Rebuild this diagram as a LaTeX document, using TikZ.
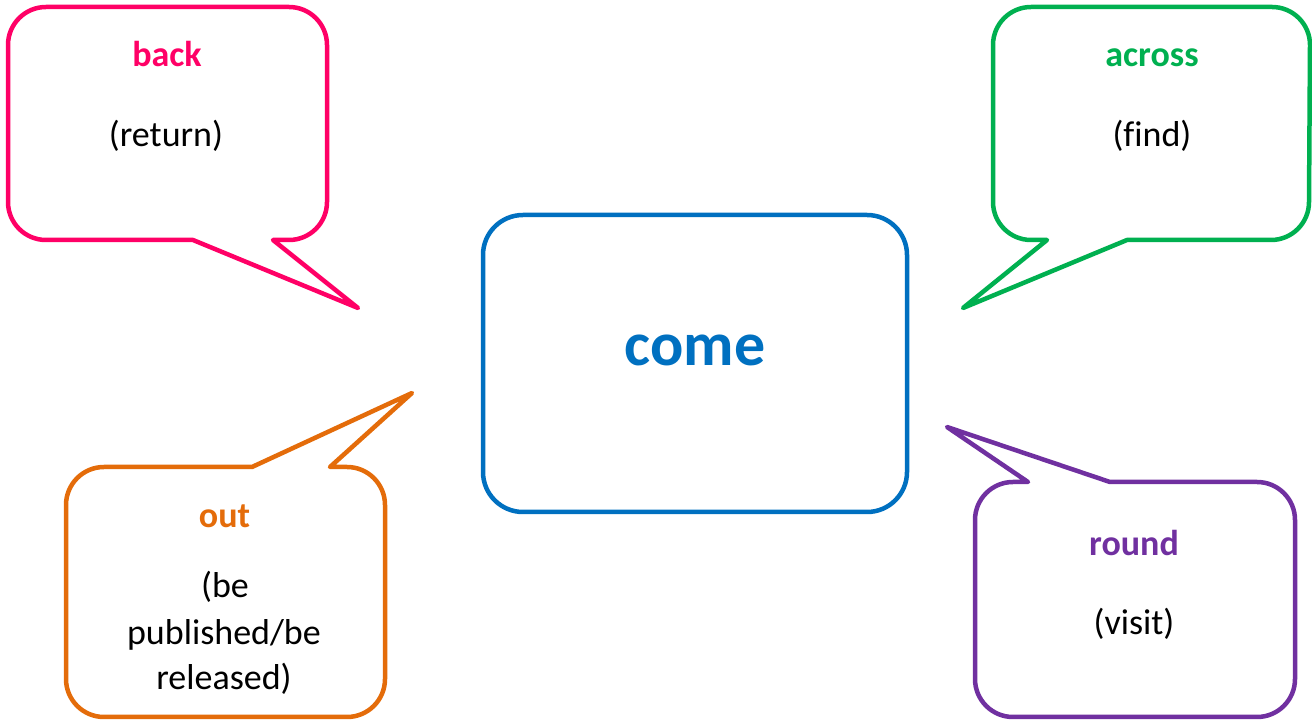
\documentclass[tikz,border=0pt]{standalone}
\usepackage{fontspec}
\setmainfont{Carlito}[Ligatures=CommonOff]
\definecolor{cpink}{HTML}{FF0066}
\definecolor{cgreen}{HTML}{00B050}
\definecolor{corange}{HTML}{E46C0A}
\definecolor{cpurple}{HTML}{7030A0}
\definecolor{cblue}{HTML}{0070C0}
\begin{document}
\begin{tikzpicture}[x=1pt,y=1pt,
  bubble/.style={line width=4.5pt, line join=round, line cap=round, fill=white},
  headword/.style={anchor=base, font=\fontsize{36}{44}\selectfont\bfseries, inner sep=0pt},
  meaning/.style={anchor=base, font=\fontsize{36}{44}\selectfont, text=black, inner sep=0pt}]
\useasboundingbox (0,0) rectangle (1312,720);
% centre box
\node[draw=cblue, line width=4.5pt, rounded corners=40pt, minimum width=424pt, minimum height=297pt, inner sep=0pt] (centre) at (695,356.5) {};
\node[anchor=base, inner sep=0pt, text=cblue, font=\fontsize{62}{70}\selectfont\bfseries] (come) at (695,354) {come};
% back bubble
\draw[bubble, draw=cpink] (193,480) -- (358,412) -- (273,480) -- (289,480)
  arc[start angle=270,end angle=360,radius=38] -- (327,675)
  arc[start angle=0,end angle=90,radius=38] -- (46,713)
  arc[start angle=90,end angle=180,radius=38] -- (8,518)
  arc[start angle=180,end angle=270,radius=38] -- cycle;
\node[headword, text=cpink] (back) at (167,653) {back};
\node[meaning] (return) at (166,573) {(return)};
% across bubble
\draw[bubble, draw=cgreen] (1127,480) -- (963,412) -- (1047,480) -- (1031,480)
  arc[start angle=270,end angle=180,radius=38] -- (993,675)
  arc[start angle=180,end angle=90,radius=38] -- (1272,713)
  arc[start angle=90,end angle=0,radius=38] -- (1309,518)
  arc[start angle=0,end angle=-90,radius=38] -- cycle;
\node[headword, text=cgreen] (across) at (1152,653) {across};
\node[meaning] (find) at (1152,573) {(find)};
% out bubble
\draw[bubble, draw=corange] (252,253) -- (412,327) -- (330,253) -- (347,253)
  arc[start angle=90,end angle=0,radius=38] -- (385,41)
  arc[start angle=0,end angle=-90,radius=38] -- (104,3)
  arc[start angle=270,end angle=180,radius=38] -- (66,215)
  arc[start angle=180,end angle=90,radius=38] -- cycle;
\node[headword, text=corange] (out) at (224.5,192) {out};
\node[meaning] (out1) at (225,122) {(be};
\node[meaning] (out2) at (224,75) {published/be};
\node[meaning] (out3) at (224,30) {released)};
% round bubble
\draw[bubble, draw=cpurple] (1110,238) -- (947,293) -- (1028,238) -- (1013,238)
  arc[start angle=90,end angle=180,radius=38] -- (975,41)
  arc[start angle=180,end angle=270,radius=38] -- (1257,3)
  arc[start angle=270,end angle=360,radius=38] -- (1295,200)
  arc[start angle=0,end angle=90,radius=38] -- cycle;
\node[headword, text=cpurple] (round) at (1134,164) {round};
\node[meaning] (visit) at (1134,85) {(visit)};
\end{tikzpicture}
\end{document}
